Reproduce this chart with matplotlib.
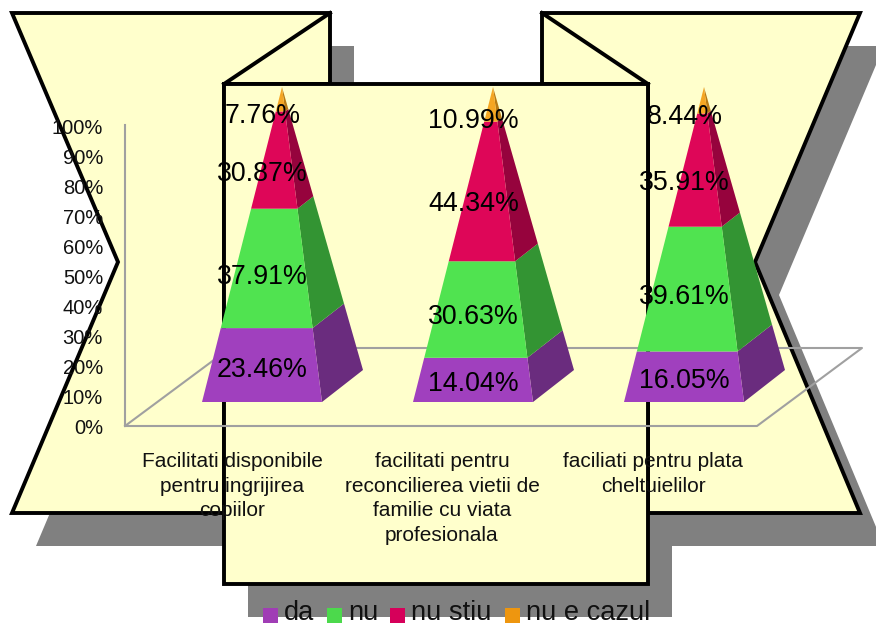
from matplotlib import pyplot as plt
from matplotlib.patches import Polygon, Rectangle

plt.rcParams['font.family'] = ['Liberation Sans', 'DejaVu Sans']

# values, percent of each category
categories = ['Facilitati disponibile\npentru ingrijirea\ncopiilor',
              'facilitati pentru\nreconcilierea vietii de\nfamilie cu viata\nprofesionala',
              'faciliati pentru plata\ncheltuielilor']
series_names = ['da', 'nu', 'nu stiu', 'nu e cazul']
da = [23.46, 14.04, 16.05]
nu = [37.91, 30.63, 39.61]
nu_stiu = [30.87, 44.34, 35.91]
nu_cazul = [7.76, 10.99, 8.44]
value_labels = [['23.46%', '14.04%', '16.05%'],
                ['37.91%', '30.63%', '39.61%'],
                ['30.87%', '44.34%', '35.91%'],
                ['7.76%', '10.99%', '8.44%']]
ticks = [0, 10, 20, 30, 40, 50, 60, 70, 80, 90, 100]

front_cols = ['#A040BE', '#50E350', '#DE0658', '#F5A623']
side_cols = ['#6A2C7E', '#339433', '#96033D', '#B87A14']
legend_cols = ['#A03DB5', '#4CD94C', '#D6005A', '#EE960F']
yellow, shadow, black, axis_col = '#FFFFCC', '#808080', '#000000', '#A0A0A0'

# axes in picture pixels, y downwards
fig = plt.figure(figsize=(8.76, 6.26), dpi=100)
ax = fig.add_axes([0, 0, 1, 1])
ax.set_xlim(0, 876)
ax.set_ylim(626, 0)
ax.axis('off')

left_banner = [(12, 13), (330, 13), (330, 84), (224, 84), (224, 513), (12, 513), (118, 262)]
right_banner = [(542, 13), (860, 13), (755, 262), (860, 513), (648, 513), (648, 84), (542, 84)]
centre = [(224, 84), (648, 84), (648, 584), (224, 584)]

for shape in (left_banner, right_banner, centre):
    ax.add_patch(Polygon([(x + 24, y + 33) for x, y in shape], closed=True, fc=shadow, ec='none', zorder=1))
for shape in (left_banner, right_banner):
    ax.add_patch(Polygon(shape, closed=True, fc=yellow, ec=black, lw=2.8, joinstyle='miter', zorder=2))
ax.plot([330, 224], [13, 84], color=black, lw=2.8, zorder=3)
ax.plot([542, 648], [13, 84], color=black, lw=2.8, zorder=3)
ax.add_patch(Polygon(centre, closed=True, fc=yellow, ec=black, lw=2.8, joinstyle='miter', zorder=4))

# wall and floor
ax.plot([125, 125, 757, 862, 230, 125], [125, 426, 426, 348, 348, 426], color=axis_col, lw=1.5, zorder=5)

# pyramids, each corner runs to the apex by the cumulative share
def corner(base, apex, f):
    return (base[0] + (apex[0] - base[0]) * f, base[1] + (apex[1] - base[1]) * f)

spacing = 211
rows = [da, nu, nu_stiu, nu_cazul]
for i in range(len(categories)):
    fl, fr, br = (202 + spacing * i, 402), (322 + spacing * i, 402), (363 + spacing * i, 370)
    apex = (282 + spacing * i, 87)
    total = sum(r[i] for r in rows)
    low = 0
    for s, row in enumerate(rows):
        f0 = low / total
        f1 = (low + row[i]) / total
        ax.add_patch(Polygon([corner(fr, apex, f0), corner(br, apex, f0), corner(br, apex, f1), corner(fr, apex, f1)],
                             closed=True, fc=side_cols[s], ec='none', zorder=6))
        ax.add_patch(Polygon([corner(fl, apex, f0), corner(fr, apex, f0), corner(fr, apex, f1), corner(fl, apex, f1)],
                             closed=True, fc=front_cols[s], ec='none', zorder=7))
        mid = (f0 + f1) / 2
        ax.text(262.5 + spacing * i, 405 - 301 * mid, value_labels[s][i], fontsize=19.3, ha='center', va='center',
                color=black, zorder=9)
        low += row[i]

for t in ticks:
    ax.text(103, 429 - 3.01 * t, '{}%'.format(t), fontsize=14.5, ha='right', va='center', color='#111111', zorder=9)

cat_x = [232, 442, 653]
for x, name in zip(cat_x, categories):
    ax.text(x, 452, name, fontsize=15, ha='center', va='top', linespacing=1.38, color='#111111', zorder=9)

# legend
box_x = [263, 327, 390, 505]
for x, col, name in zip(box_x, legend_cols, series_names):
    ax.add_patch(Rectangle((x, 608), 15, 15, fc=col, ec='none', zorder=9))
    ax.text(x + 21, 620, name, fontsize=19.6, ha='left', va='baseline', color='#111111', zorder=9)

fig.savefig('out.png', dpi=100)
